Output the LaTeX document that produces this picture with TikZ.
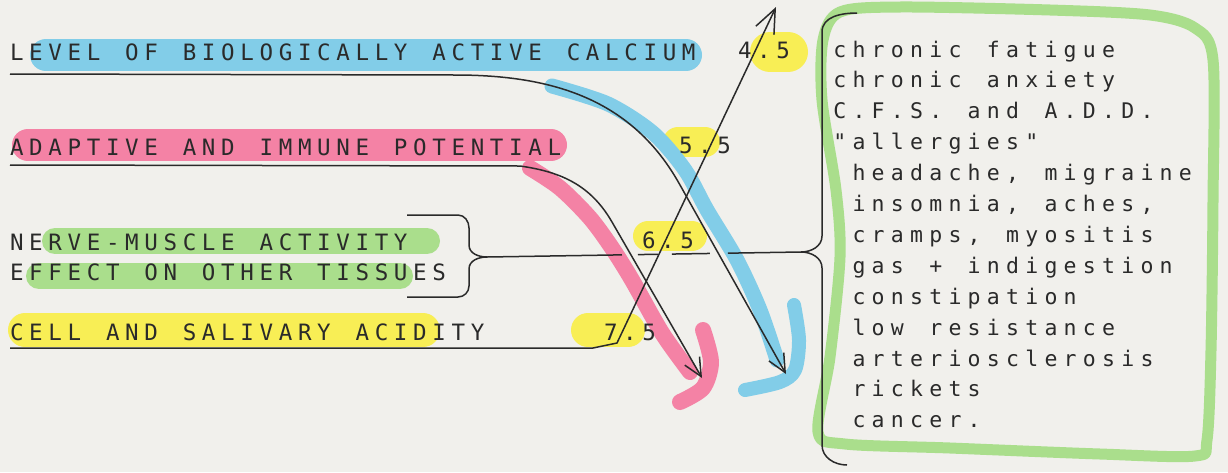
\documentclass[tikz,border=0pt]{standalone}
\usepackage{fontspec}
\usetikzlibrary{arrows.meta}
\newfontfamily\plotfont{DejaVu Sans Mono}
\ExplSyntaxOn
\NewDocumentCommand\pl{m}{\str_map_inline:nn{#1}{\makebox[19.2pt][c]{##1}}}
\ExplSyntaxOff
\definecolor{bgc}{HTML}{F1F0EC}
\definecolor{mblue}{HTML}{82CDE8}
\definecolor{mpink}{HTML}{F482A5}
\definecolor{myellow}{HTML}{F8EE55}
\definecolor{mgreen}{HTML}{AADE8C}
\definecolor{ink}{HTML}{2A2A2A}
\tikzset{
  lab/.style={anchor=base west, inner sep=0pt, text=ink, font={\plotfont\fontsize{22.5}{25}\selectfont}},
  itm/.style={anchor=base west, inner sep=0pt, text=ink, font={\plotfont\fontsize{21.5}{24}\selectfont}},
  hl/.style={line cap=round, line join=round},
  conn/.style={line width=1.5pt, draw=ink},
  arr/.style={conn, -{Straight Barb[length=18pt,width=17pt,line width=1.5pt]}},
  arrup/.style={conn, -{Straight Barb[length=24pt,width=20pt,line width=1.5pt]}},
}
\begin{document}
\begin{tikzpicture}[x=1pt,y=-1pt]
\useasboundingbox (0,0) rectangle (1228,472);
\fill[bgc] (0,0) rectangle (1228,472);
% ---- marker highlights ----
\draw[hl, mblue, line width=32pt] (46,55) -- (686,55);
\draw[hl, mpink, line width=32pt] (28,145) -- (551,145);
\draw[hl, mgreen, line width=26pt] (55,241) -- (427,241);
\draw[hl, mgreen, line width=26pt] (39,276) -- (400,276);
\draw[hl, myellow, line width=34pt] (25,330) -- (423,330);
\draw[hl, myellow, line width=34pt] (588,330) -- (628,330);
\draw[hl, myellow, line width=30pt] (648,236) -- (692,236);
\draw[hl, myellow, line width=30pt] (678,142) -- (705,142);
\draw[hl, myellow, line width=40pt] (770,52) -- (788,52);
% blue stroke and hook
\draw[hl, mblue, line width=15pt] plot[smooth] coordinates {(552,86) (608,104) (653,133) (685,170) (707,210) (737,260) (760,310) (777,360)};
\draw[hl, mblue, line width=14pt] plot[smooth] coordinates {(794,305) (799,340) (795,370) (780,382) (745,390)};
% pink stroke and hook
\draw[hl, mpink, line width=16pt] plot[smooth] coordinates {(530,168) (560,188) (590,218) (612,248) (632,280) (662,333) (690,372)};
\draw[hl, mpink, line width=16pt] plot[smooth] coordinates {(703,330) (711,362) (703,388) (680,402)};
% green box
\draw[hl, mgreen, line width=11pt] plot[smooth cycle] coordinates {(818,432) (830,357) (840,257) (836,190) (822,100) (823,40) (840,12) (900,7) (1050,10) (1150,15) (1195,28) (1213,60) (1213,200) (1211,350) (1207,440) (1195,456) (1100,454) (950,448) (845,444)};
% ---- texts ----
\node[lab] (lvl) at (7,60) {\pl{LEVEL OF BIOLOGICALLY ACTIVE CALCIUM}};
\node[lab] (adp) at (7,155) {\pl{ADAPTIVE AND IMMUNE POTENTIAL}};
\node[lab] (nrv) at (7,250) {\pl{NERVE-MUSCLE ACTIVITY}};
\node[lab] (eff) at (7,280) {\pl{EFFECT ON OTHER TISSUES}};
\node[lab] (cell) at (7,340) {\pl{CELL AND SALIVARY ACIDITY}};
\node[lab] (n45) at (735,58) {\pl{4.5}};
\node[lab] (n55) at (676,153) {\pl{5.5}};
\node[lab] (n65) at (639,248) {\pl{6.5}};
\node[lab] (n75) at (601,340) {\pl{7.5}};
\node[itm] (l1) at (830,57) {\pl{chronic fatigue}};
\node[itm] (l2) at (830,87.9) {\pl{chronic anxiety}};
\node[itm] (l3) at (830,118.8) {\pl{C.F.S. and A.D.D.}};
\node[itm] (l4) at (830,149.7) {\pl{"allergies"}};
\node[itm] (l5) at (830,180.6) {\pl{ headache, migraine}};
\node[itm] (l6) at (830,211.5) {\pl{ insomnia, aches,}};
\node[itm] (l7) at (830,242.4) {\pl{ cramps, myositis}};
\node[itm] (l8) at (830,273.3) {\pl{ gas + indigestion}};
\node[itm] (l9) at (830,304.2) {\pl{ constipation}};
\node[itm] (l10) at (830,335.1) {\pl{ low resistance}};
\node[itm] (l11) at (830,366) {\pl{ arteriosclerosis}};
\node[itm] (l12) at (830,396.9) {\pl{ rickets}};
\node[itm] (l13) at (830,427.8) {\pl{ cancer.}};
% ---- braces ----
\coordinate (lbt) at (487,257);
\coordinate (rbt) at (801,252);
\draw[conn] (407,215) -- (458,215) to[out=0,in=90] (469,228) -- (469,245) to[out=-90,in=180] (lbt)
  to[out=180,in=90] (469,269) -- (469,286) to[out=-90,in=0] (458,297) -- (407,297);
\draw[conn] (857,13) to[out=180,in=90] (822,32) -- (822,236) to[out=-90,in=0] (rbt)
  to[out=0,in=90] (822,268) -- (822,445) to[out=-90,in=180] (847,465);
\draw[conn, dash pattern=on 135pt off 16pt on 20pt off 14pt on 38pt off 18pt on 200pt] (lbt) -- (rbt);
% ---- connectors ----
\coordinate (endB) at (786,374);
\coordinate (endP) at (702,378);
\coordinate (endU) at (776,7);
\draw[arr] ([xshift=3pt,yshift=-14pt]lvl.base west) -- (455,75) to[out=0,in=119] (680,185) -- (endB);
\draw[arr] ([xshift=3pt,yshift=-10pt]adp.base west) -- (520,166) to[out=-8,in=120] (612,222) -- (endP);
\draw[arrup] ([xshift=3pt,yshift=-8pt]cell.base west) -- (593,348) -- (617,343) -- (endU);
\end{tikzpicture}
\end{document}
